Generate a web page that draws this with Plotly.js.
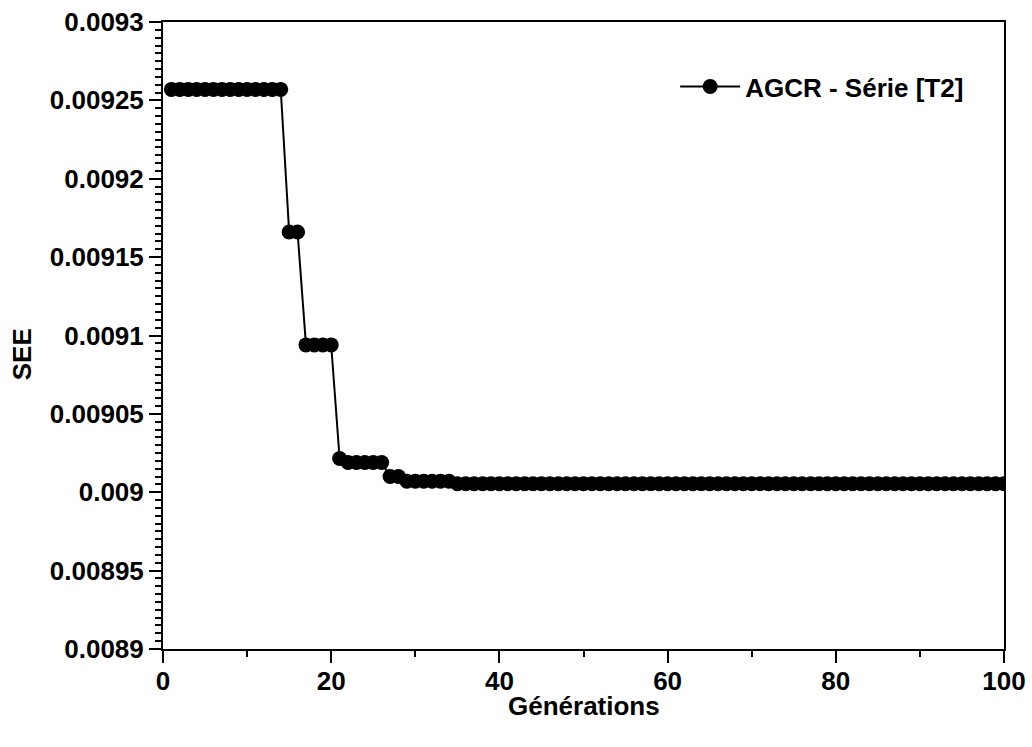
<!DOCTYPE html>
<html>
<head>
<meta charset="utf-8">
<script src="https://cdn.plot.ly/plotly-3.0.1.min.js"></script>
<style>html,body{margin:0;padding:0;background:#fff;}#chart{width:1032px;height:747px;}</style>
</head>
<body>
<div id="chart"></div>
<script>
// Generations 1..100
const generations = [
  1,2,3,4,5,6,7,8,9,10,11,12,13,14,15,16,17,18,19,20,
  21,22,23,24,25,26,27,28,29,30,31,32,33,34,35,36,37,38,39,40,
  41,42,43,44,45,46,47,48,49,50,51,52,53,54,55,56,57,58,59,60,
  61,62,63,64,65,66,67,68,69,70,71,72,73,74,75,76,77,78,79,80,
  81,82,83,84,85,86,87,88,89,90,91,92,93,94,95,96,97,98,99,100
];
const see = [
  0.009257,0.009257,0.009257,0.009257,0.009257,0.009257,0.009257,0.009257,0.009257,0.009257,
  0.009257,0.009257,0.009257,0.009257,0.009166,0.009166,0.009094,0.009094,0.009094,0.009094,
  0.0090215,0.009019,0.009019,0.009019,0.009019,0.009019,0.00901,0.00901,0.009007,0.009007,
  0.009007,0.009007,0.009007,0.009007,0.0090055,0.0090055,0.0090055,0.0090055,0.0090055,0.0090055,
  0.0090055,0.0090055,0.0090055,0.0090055,0.0090055,0.0090055,0.0090055,0.0090055,0.0090055,0.0090055,
  0.0090055,0.0090055,0.0090055,0.0090055,0.0090055,0.0090055,0.0090055,0.0090055,0.0090055,0.0090055,
  0.0090055,0.0090055,0.0090055,0.0090055,0.0090055,0.0090055,0.0090055,0.0090055,0.0090055,0.0090055,
  0.0090055,0.0090055,0.0090055,0.0090055,0.0090055,0.0090055,0.0090055,0.0090055,0.0090055,0.0090055,
  0.0090055,0.0090055,0.0090055,0.0090055,0.0090055,0.0090055,0.0090055,0.0090055,0.0090055,0.0090055,
  0.0090055,0.0090055,0.0090055,0.0090055,0.0090055,0.0090055,0.0090055,0.0090055,0.0090055,0.0090055
];
const yTickVals = [0.0089,0.00895,0.009,0.00905,0.0091,0.00915,0.0092,0.00925,0.0093];
const yTickText = ["0.0089","0.00895","0.009","0.00905","0.0091","0.00915","0.0092","0.00925","0.0093"];
const xTickVals = [0,20,40,60,80,100];
const xTickText = ["0","20","40","60","80","100"];
const seriesName = "AGCR - Série [T2]";
const xTitle = "Générations";
const yTitle = "SEE";

const fam = "Liberation Sans, Arial, sans-serif";
const font = {family: fam, color: "#000", size: 26, weight: "bold"};

const trace = {
  x: generations, y: see, name: seriesName,
  type: "scatter", mode: "lines+markers",
  line: {color: "#000", width: 2},
  marker: {color: "#000", size: 15, symbol: "circle"},
  showlegend: true
};

const layout = {
  width: 1032, height: 747,
  paper_bgcolor: "#fff", plot_bgcolor: "#fff",
  margin: {l: 163, r: 28, t: 22, b: 98, pad: 0},
  font: font,
  showlegend: true,
  legend: {
    x: 0.609, y: 0.897, xanchor: "left", yanchor: "middle",
    bgcolor: "rgba(0,0,0,0)", borderwidth: 0,
    font: {family: fam, size: 26, color: "#000", weight: "bold"},
    itemwidth: 60
  },
  xaxis: {
    range: [0, 100], autorange: false,
    tickmode: "array", tickvals: xTickVals, ticktext: xTickText,
    ticks: "outside", ticklen: 12, tickwidth: 2, tickcolor: "#000",
    ticklabelstandoff: -4,
    minor: {dtick: 10, tick0: 0, ticks: "outside", ticklen: 6, tickwidth: 2, tickcolor: "#000", showgrid: false},
    showline: true, linewidth: 2, linecolor: "#000", mirror: true,
    showgrid: false, zeroline: false,
    tickfont: {family: fam, size: 26, color: "#000", weight: "bold"},
    automargin: false
  },
  yaxis: {
    range: [0.0089, 0.0093], autorange: false,
    tickmode: "array", tickvals: yTickVals, ticktext: yTickText,
    ticks: "outside", ticklen: 12, tickwidth: 2, tickcolor: "#000",
    minor: {dtick: 0.000005, tick0: 0.0089, ticks: "outside", ticklen: 6, tickwidth: 2, tickcolor: "#000", showgrid: false},
    showline: true, linewidth: 2, linecolor: "#000", mirror: true,
    showgrid: false, zeroline: false,
    tickfont: {family: fam, size: 26, color: "#000", weight: "bold"},
    automargin: false
  },
  annotations: [
    {
      text: yTitle, xref: "paper", yref: "paper",
      x: (22 - 163) / 841, y: 1 - (354 - 22) / 626.5,
      xanchor: "center", yanchor: "middle", textangle: -90, showarrow: false,
      font: {family: fam, size: 26, color: "#000", weight: "bold"}
    },
    {
      text: xTitle, xref: "paper", yref: "paper",
      x: 0.5, y: 1 - (705 - 22) / 626.5,
      xanchor: "center", yanchor: "middle", showarrow: false,
      font: {family: fam, size: 26, color: "#000", weight: "bold"}
    }
  ]
};

Plotly.newPlot("chart", [trace], layout, {displayModeBar: false, staticPlot: true});
</script>
</body>
</html>
